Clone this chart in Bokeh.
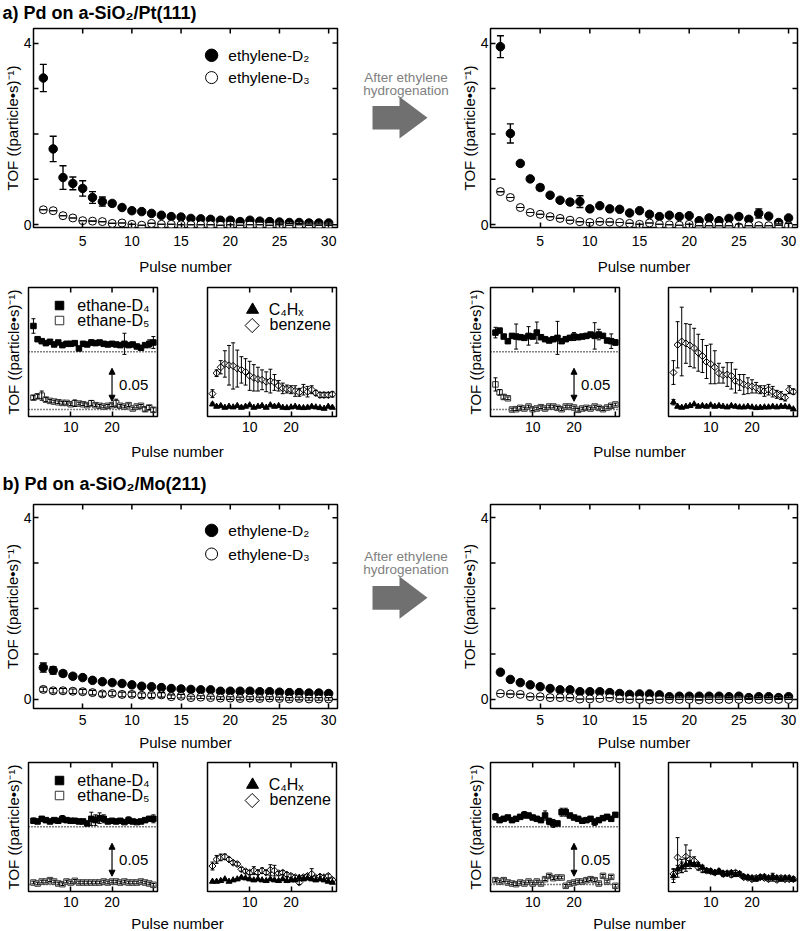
import numpy as np
from bokeh.plotting import figure
from bokeh.layouts import column, row
from bokeh.models import (Range1d, LinearAxis, FixedTicker, Whisker, TeeHead, Label,
                          Span, Arrow, NormalHead, ColumnDataSource)
from bokeh.embed import file_html
from bokeh.resources import INLINE

FONT = "Liberation Sans"
pulse = list(range(1, 31))

# ================= DATA: main panels, TOF ((particle*s)^-1) =================
# a) Pd on a-SiO2/Pt(111), before
a_pre_d2 = [3.23, 1.67, 1.04, 0.91, 0.80, 0.60, 0.51, 0.47, 0.38, 0.31,
            0.29, 0.25, 0.21, 0.18, 0.17, 0.14, 0.13, 0.12, 0.10, 0.10,
            0.07, 0.10, 0.08, 0.07, 0.06, 0.05, 0.05, 0.04, 0.04, 0.04]
a_pre_d2_err = [0.30, 0.28, 0.26, 0.14, 0.17, 0.13, 0.10, 0.05, 0.04, 0.04,
                0.04, 0.03, 0.03, 0.03, 0.03, 0.03, 0.03, 0.02, 0.02, 0.02,
                0.02, 0.02, 0.02, 0.02, 0.02, 0.02, 0.02, 0.02, 0.02, 0.02]
a_pre_d3 = [0.33, 0.31, 0.20, 0.15, 0.09, 0.08, 0.07, 0.03, 0.04, 0.01,
            -0.01, 0.03, 0.01, 0.01, 0.00, 0.00, 0.00, 0.00, -0.01, 0.00,
            -0.01, 0.00, 0.00, -0.01, 0.00, -0.01, 0.00, -0.01, -0.01, -0.01]
a_pre_d3_err = [0.0, 0.0, 0.0, 0.0, 0.0, 0.0, 0.0, 0.0, 0.0, 0.0,
                0.0, 0.0, 0.0, 0.0, 0.0, 0.0, 0.0, 0.0, 0.0, 0.0,
                0.0, 0.0, 0.0, 0.0, 0.0, 0.0, 0.0, 0.0, 0.0, 0.0]
# a) after ethylene hydrogenation
a_post_d2 = [3.92, 2.01, 1.35, 1.01, 0.82, 0.65, 0.54, 0.50, 0.51, 0.35,
             0.42, 0.35, 0.34, 0.26, 0.31, 0.23, 0.18, 0.21, 0.18, 0.20,
             0.09, 0.15, 0.09, 0.14, 0.18, 0.12, 0.25, 0.19, 0.05, 0.15]
a_post_d2_err = [0.24, 0.21, 0.04, 0.04, 0.06, 0.04, 0.03, 0.03, 0.13, 0.04,
                 0.03, 0.04, 0.03, 0.03, 0.03, 0.03, 0.03, 0.03, 0.03, 0.03,
                 0.03, 0.03, 0.03, 0.03, 0.03, 0.03, 0.10, 0.03, 0.03, 0.03]
a_post_d3 = [0.73, 0.60, 0.38, 0.27, 0.23, 0.18, 0.14, 0.10, 0.07, 0.05,
             0.07, 0.06, 0.05, 0.03, 0.01, 0.04, 0.01, 0.00, -0.01, 0.01,
             -0.02, -0.02, -0.02, -0.02, -0.05, -0.02, -0.02, -0.02, -0.01, -0.02]
a_post_d3_err = [0.0, 0.0, 0.0, 0.0, 0.0, 0.0, 0.0, 0.0, 0.0, 0.0,
                 0.0, 0.0, 0.0, 0.0, 0.0, 0.0, 0.0, 0.0, 0.0, 0.0,
                 0.0, 0.0, 0.0, 0.0, 0.06, 0.0, 0.0, 0.0, 0.0, 0.05]
# b) Pd on a-SiO2/Mo(211), before
b_pre_d2 = [0.70, 0.64, 0.57, 0.51, 0.48, 0.42, 0.39, 0.37, 0.35, 0.32,
            0.29, 0.28, 0.26, 0.24, 0.23, 0.22, 0.21, 0.21, 0.18, 0.18,
            0.18, 0.18, 0.17, 0.17, 0.16, 0.15, 0.15, 0.14, 0.14, 0.13]
b_pre_d2_err = [0.10, 0.08, 0.06, 0.05, 0.03, 0.03, 0.03, 0.03, 0.03, 0.03,
                0.03, 0.03, 0.03, 0.03, 0.03, 0.03, 0.03, 0.03, 0.03, 0.03,
                0.03, 0.03, 0.03, 0.03, 0.03, 0.03, 0.03, 0.03, 0.03, 0.03]
b_pre_d3 = [0.22, 0.19, 0.19, 0.18, 0.17, 0.15, 0.12, 0.13, 0.11, 0.11,
            0.09, 0.09, 0.10, 0.06, 0.07, 0.04, 0.05, 0.04, 0.03, 0.03,
            0.02, 0.03, 0.02, 0.03, 0.02, 0.01, 0.02, 0.01, 0.01, 0.01]
b_pre_d3_err = [0.05, 0.05, 0.05, 0.05, 0.05, 0.05, 0.05, 0.05, 0.05, 0.05,
                0.05, 0.05, 0.05, 0.04, 0.04, 0.03, 0.03, 0.03, 0.03, 0.03,
                0.03, 0.03, 0.03, 0.03, 0.03, 0.03, 0.03, 0.03, 0.03, 0.03]
# b) after ethylene hydrogenation
b_post_d2 = [0.60, 0.44, 0.37, 0.32, 0.28, 0.24, 0.21, 0.21, 0.17, 0.17,
             0.17, 0.15, 0.13, 0.11, 0.12, 0.12, 0.10, 0.06, 0.07, 0.07,
             0.07, 0.07, 0.07, 0.06, 0.07, 0.04, 0.06, 0.06, 0.04, 0.06]
b_post_d2_err = [0.02, 0.02, 0.02, 0.02, 0.02, 0.02, 0.02, 0.02, 0.02, 0.02,
                 0.02, 0.02, 0.02, 0.02, 0.02, 0.02, 0.02, 0.02, 0.02, 0.02,
                 0.02, 0.02, 0.02, 0.02, 0.02, 0.02, 0.02, 0.02, 0.02, 0.02]
b_post_d3 = [0.13, 0.12, 0.11, 0.06, 0.06, 0.04, 0.04, 0.04, 0.01, 0.01,
             0.02, 0.04, 0.01, 0.00, 0.00, -0.01, 0.00, 0.00, 0.00, 0.00,
             -0.01, 0.00, 0.00, 0.00, 0.00, 0.00, 0.00, 0.00, 0.00, 0.00]
b_post_d3_err = [0.0, 0.0, 0.0, 0.0, 0.0, 0.0, 0.0, 0.0, 0.0, 0.0,
                 0.0, 0.0, 0.0, 0.0, 0.0, 0.0, 0.0, 0.0, 0.0, 0.0,
                 0.0, 0.0, 0.0, 0.0, 0.0, 0.0, 0.0, 0.0, 0.0, 0.0]

# ================= DATA: small panels (ethane-D4, ethane-D5, C4Hx, benzene) =================
a_pre_d4 = [0.039, 0.019, 0.016, 0.013, 0.015, 0.011, 0.014, 0.010, 0.012, 0.012,
            0.013, 0.005, 0.012, 0.011, 0.014, 0.013, 0.014, 0.012, 0.011, 0.012,
            0.011, 0.010, 0.012, 0.010, 0.011, 0.008, 0.006, 0.010, 0.012, 0.014]
a_pre_d4_err = [0.011, 0.002, 0.002, 0.002, 0.002, 0.002, 0.002, 0.002, 0.002, 0.002,
                0.002, 0.002, 0.002, 0.002, 0.004, 0.002, 0.002, 0.002, 0.002, 0.002,
                0.002, 0.002, 0.016, 0.002, 0.002, 0.002, 0.002, 0.002, 0.006, 0.009]
a_pre_d5 = [0.018, 0.020, 0.021, 0.015, 0.013, 0.012, 0.011, 0.010, 0.010, 0.008,
            0.0095, 0.009, 0.008, 0.0066, 0.0096, 0.0066, 0.0056, 0.0045, 0.0056, 0.0066,
            0.0096, 0.0056, 0.0045, 0.0066, 0.0015, 0.0045, 0.0056, 0.0005, 0.003, -0.0005]
a_pre_d5_err = [0.003, 0.003, 0.007, 0.003, 0.002, 0.002, 0.002, 0.002, 0.002, 0.002,
                0.005, 0.002, 0.002, 0.002, 0.004, 0.002, 0.002, 0.002, 0.002, 0.002,
                0.006, 0.002, 0.002, 0.002, 0.002, 0.002, 0.002, 0.003, 0.003, 0.003]
a_pre_benz = [0.024, 0.055, 0.064, 0.069, 0.067, 0.066, 0.062, 0.060, 0.057, 0.051,
              0.048, 0.046, 0.045, 0.042, 0.043, 0.041, 0.036, 0.032, 0.031, 0.030,
              0.028, 0.026, 0.030, 0.027, 0.030, 0.025, 0.022, 0.022, 0.022, 0.023]
a_pre_benz_err = [0.006, 0.005, 0.010, 0.020, 0.030, 0.035, 0.028, 0.020, 0.020, 0.022,
                  0.020, 0.018, 0.015, 0.015, 0.018, 0.012, 0.008, 0.008, 0.006, 0.006,
                  0.008, 0.006, 0.008, 0.008, 0.006, 0.004, 0.004, 0.004, 0.004, 0.004]
a_pre_c4 = [0.008, 0.0045, 0.0055, 0.003, 0.0045, 0.0035, 0.0056, 0.003, 0.0045, 0.0066,
            0.003, 0.0045, 0.0056, 0.003, 0.0066, 0.0045, 0.0056, 0.003, 0.0025, 0.0035,
            0.0045, 0.003, 0.0025, 0.003, 0.0045, 0.0035, 0.0025, 0.0015, 0.0045, 0.003]
a_pre_c4_err = [0.002, 0.001, 0.001, 0.001, 0.001, 0.001, 0.001, 0.001, 0.001, 0.001,
                0.001, 0.001, 0.001, 0.001, 0.001, 0.001, 0.001, 0.001, 0.001, 0.001,
                0.001, 0.001, 0.001, 0.001, 0.001, 0.001, 0.001, 0.001, 0.001, 0.001]

a_post_d4 = [0.029, 0.032, 0.023, 0.016, 0.024, 0.023, 0.022, 0.021, 0.024, 0.023,
             0.029, 0.022, 0.019, 0.017, 0.019, 0.021, 0.016, 0.019, 0.021, 0.023,
             0.022, 0.023, 0.024, 0.026, 0.024, 0.026, 0.024, 0.017, 0.016, 0.014]
a_post_d4_err = [0.008, 0.003, 0.002, 0.002, 0.003, 0.019, 0.003, 0.003, 0.014, 0.003,
                 0.016, 0.003, 0.003, 0.003, 0.003, 0.025, 0.003, 0.003, 0.003, 0.006,
                 0.003, 0.003, 0.003, 0.003, 0.020, 0.008, 0.003, 0.003, 0.011, 0.004]
a_post_d5 = [0.038, 0.026, 0.019, 0.017, 0.000, 0.0005, 0.0025, 0.0015, 0.0045, 0.0005,
             0.0015, 0.0035, 0.0015, 0.0045, 0.0045, 0.0025, 0.0005, 0.0045, 0.0045, 0.003,
             -0.0005, 0.0015, 0.0025, 0.0015, 0.0045, 0.0025, 0.0005, 0.003, 0.0056, 0.0076]
a_post_d5_err = [0.010, 0.004, 0.003, 0.002, 0.002, 0.002, 0.002, 0.002, 0.002, 0.002,
                 0.002, 0.002, 0.002, 0.002, 0.002, 0.002, 0.002, 0.002, 0.002, 0.002,
                 0.002, 0.002, 0.002, 0.002, 0.002, 0.002, 0.002, 0.002, 0.002, 0.002]
a_post_benz = [0.056, 0.098, 0.103, 0.100, 0.097, 0.093, 0.086, 0.081, 0.072, 0.069,
               0.064, 0.055, 0.052, 0.053, 0.051, 0.043, 0.041, 0.038, 0.036, 0.035,
               0.033, 0.030, 0.028, 0.030, 0.027, 0.023, 0.021, 0.018, 0.030, 0.027]
a_post_benz_err = [0.018, 0.035, 0.052, 0.030, 0.032, 0.030, 0.028, 0.025, 0.025, 0.030,
                   0.025, 0.015, 0.012, 0.018, 0.020, 0.018, 0.012, 0.015, 0.012, 0.010,
                   0.008, 0.006, 0.008, 0.008, 0.008, 0.006, 0.006, 0.005, 0.006, 0.004]
a_post_c4 = [0.011, 0.0045, 0.003, 0.0045, 0.0056, 0.008, 0.0045, 0.0056, 0.0045, 0.0066,
             0.0045, 0.0056, 0.0045, 0.0035, 0.0056, 0.0045, 0.0035, 0.0035, 0.0045, 0.0035,
             0.0025, 0.003, 0.0035, 0.0035, 0.0045, 0.0035, 0.0045, 0.0045, 0.0035, 0.0005]
a_post_c4_err = [0.004, 0.001, 0.001, 0.001, 0.001, 0.001, 0.001, 0.001, 0.001, 0.001,
                 0.001, 0.001, 0.001, 0.001, 0.001, 0.001, 0.001, 0.001, 0.001, 0.001,
                 0.001, 0.001, 0.001, 0.001, 0.001, 0.001, 0.001, 0.001, 0.001, 0.001]

b_pre_d4 = [0.009, 0.008, 0.012, 0.010, 0.008, 0.010, 0.009, 0.012, 0.010, 0.009,
            0.009, 0.008, 0.008, 0.005, 0.012, 0.010, 0.013, 0.012, 0.008, 0.009,
            0.008, 0.009, 0.007, 0.010, 0.008, 0.007, 0.008, 0.010, 0.012, 0.012]
b_pre_d4_err = [0.004, 0.002, 0.002, 0.002, 0.002, 0.002, 0.002, 0.005, 0.002, 0.002,
                0.002, 0.002, 0.002, 0.002, 0.010, 0.008, 0.008, 0.006, 0.002, 0.002,
                0.002, 0.002, 0.002, 0.005, 0.002, 0.002, 0.002, 0.002, 0.002, 0.006]
b_pre_d5 = [0.003, 0.0015, 0.0045, 0.0045, 0.0066, 0.0045, 0.0015, 0.0005, 0.0045, 0.003,
            0.0056, 0.003, 0.003, 0.003, 0.003, 0.003, 0.003, 0.0045, 0.003, 0.0045,
            0.0045, 0.003, 0.0045, 0.003, 0.003, 0.003, 0.0045, 0.003, 0.0015, -0.0005]
b_pre_d5_err = [0.002, 0.002, 0.002, 0.002, 0.002, 0.002, 0.002, 0.002, 0.002, 0.002,
                0.002, 0.002, 0.002, 0.002, 0.002, 0.002, 0.002, 0.002, 0.002, 0.002,
                0.002, 0.002, 0.002, 0.002, 0.002, 0.002, 0.002, 0.002, 0.002, 0.002]
b_pre_benz = [0.028, 0.038, 0.041, 0.042, 0.038, 0.033, 0.031, 0.023, 0.020, 0.018,
              0.021, 0.018, 0.021, 0.018, 0.022, 0.021, 0.017, 0.018, 0.015, 0.013,
              0.011, 0.003, 0.011, 0.013, 0.016, 0.010, 0.012, 0.011, 0.013, 0.007]
b_pre_benz_err = [0.006, 0.006, 0.005, 0.004, 0.003, 0.003, 0.003, 0.003, 0.003, 0.003,
                  0.006, 0.003, 0.004, 0.003, 0.008, 0.008, 0.003, 0.003, 0.003, 0.003,
                  0.003, 0.003, 0.003, 0.003, 0.008, 0.003, 0.003, 0.003, 0.003, 0.003]
b_pre_c4 = [0.0045, 0.0045, 0.0056, 0.0081, 0.0045, 0.0066, 0.0081, 0.0106, 0.0096, 0.0081,
            0.0066, 0.0081, 0.0066, 0.0056, 0.0081, 0.0066, 0.0056, 0.0081, 0.0056, 0.0066,
            0.0066, 0.0106, 0.0081, 0.0096, 0.0081, 0.0066, 0.0081, 0.0066, 0.0045, 0.003]
b_pre_c4_err = [0.001, 0.001, 0.001, 0.001, 0.001, 0.001, 0.001, 0.001, 0.001, 0.001,
                0.001, 0.001, 0.001, 0.001, 0.001, 0.001, 0.001, 0.001, 0.001, 0.001,
                0.001, 0.001, 0.001, 0.001, 0.001, 0.001, 0.001, 0.001, 0.001, 0.001]

b_post_d4 = [0.015, 0.010, 0.012, 0.014, 0.010, 0.012, 0.015, 0.018, 0.017, 0.014,
             0.012, 0.010, 0.017, 0.008, 0.005, 0.005, 0.022, 0.022, 0.017, 0.014,
             0.012, 0.009, 0.010, 0.012, 0.007, 0.010, 0.013, 0.015, 0.012, 0.018]
b_post_d4_err = [0.005, 0.002, 0.002, 0.002, 0.002, 0.002, 0.002, 0.005, 0.002, 0.002,
                 0.002, 0.002, 0.007, 0.005, 0.006, 0.002, 0.006, 0.006, 0.002, 0.002,
                 0.002, 0.002, 0.002, 0.002, 0.005, 0.002, 0.002, 0.002, 0.002, 0.002]
b_post_d5 = [0.0066, 0.0045, 0.0066, 0.003, 0.0015, 0.0005, 0.003, 0.0015, 0.0045, 0.0015,
             0.0045, 0.0015, 0.0081, 0.0131, 0.0096, 0.0106, 0.0106, -0.002, 0.0015, 0.003,
             0.0045, 0.0045, 0.0066, 0.0081, 0.0066, 0.0015, 0.0131, 0.0045, 0.0116, -0.002]
b_post_d5_err = [0.002, 0.002, 0.002, 0.002, 0.002, 0.002, 0.002, 0.002, 0.002, 0.002,
                 0.002, 0.002, 0.002, 0.002, 0.002, 0.002, 0.002, 0.002, 0.002, 0.002,
                 0.002, 0.002, 0.002, 0.002, 0.002, 0.002, 0.002, 0.002, 0.002, 0.002]
b_post_benz = [0.016, 0.041, 0.028, 0.042, 0.038, 0.036, 0.026, 0.023, 0.021, 0.020,
               0.018, 0.020, 0.016, 0.017, 0.015, 0.018, 0.016, 0.011, 0.010, 0.008,
               0.010, 0.011, 0.010, 0.008, 0.011, 0.007, 0.010, 0.008, 0.008, 0.008]
b_post_benz_err = [0.008, 0.030, 0.010, 0.018, 0.014, 0.006, 0.004, 0.005, 0.003, 0.003,
                   0.003, 0.003, 0.004, 0.003, 0.004, 0.003, 0.003, 0.003, 0.003, 0.003,
                   0.003, 0.003, 0.003, 0.003, 0.006, 0.003, 0.003, 0.003, 0.003, 0.003]
b_post_c4 = [0.013, 0.023, 0.026, 0.030, 0.032, 0.030, 0.030, 0.026, 0.021, 0.020,
             0.018, 0.020, 0.017, 0.016, 0.018, 0.015, 0.016, 0.012, 0.011, 0.010,
             0.008, 0.011, 0.012, 0.010, 0.011, 0.010, 0.008, 0.010, 0.010, 0.008]
b_post_c4_err = [0.010, 0.006, 0.008, 0.010, 0.004, 0.003, 0.003, 0.003, 0.003, 0.003,
                 0.003, 0.003, 0.003, 0.003, 0.003, 0.003, 0.003, 0.003, 0.003, 0.003,
                 0.003, 0.003, 0.003, 0.003, 0.003, 0.003, 0.003, 0.003, 0.003, 0.003]

# ================= axes / layout settings =================
MAIN_X = (0.0, 30.9)
A_MAIN_Y = (-0.06, 4.32)
B_MAIN_Y = (-0.2, 4.29)
MAIN_XTICKS = [5, 10, 15, 20, 25, 30]
MAIN_YTICKS = [0, 1, 2, 3, 4]
MAIN_YLABELED = [0, 4]
SMALL_X = (-0.2, 31.0)
SMALL_Y = (-0.0106, 0.1848)
SMALL_XTICKS = [10, 20, 30]
SMALL_XLABELED = [10, 20]
D4_OFFSET = 0.0875          # vertical offset of the ethane-D4 trace
SCALE_BAR = 0.05            # length of the vertical scale bar
SCALE_X, SCALE_LO, SCALE_TX = 20.0, 0.0125, 21.7

YLABEL = "TOF ((particle\u2022s)\u207b\u00b9)"
XLABEL = "Pulse number"
TICK = 5


def make_panel(fig_rect, frame_rect, xr, yr):
    fx, fy, fw, fh = fig_rect
    l, t, r, b = frame_rect
    p = figure(width=fw, height=fh, x_range=Range1d(*xr), y_range=Range1d(*yr),
               x_axis_location=None, y_axis_location=None, toolbar_location=None,
               output_backend="svg", title=None,
               min_border_left=l - fx, min_border_right=fx + fw - r,
               min_border_top=t - fy, min_border_bottom=fy + fh - b)
    p.grid.visible = False
    p.outline_line_color = "black"
    p.outline_line_width = 1.5
    p.background_fill_color = "white"
    p.border_fill_color = "white"
    return p


def strip_fig(fig_rect):
    """Blank figure whose data coordinates equal page pixels."""
    fx, fy, fw, fh = fig_rect
    p = figure(width=fw, height=fh, x_range=Range1d(fx, fx + fw), y_range=Range1d(fy + fh, fy),
               x_axis_location=None, y_axis_location=None, toolbar_location=None,
               output_backend="svg", title=None, min_border=0)
    p.grid.visible = False
    p.outline_line_color = None
    p.border_fill_color = "white"
    p.background_fill_color = "white"
    return p


def add_axis(p, side, ticks, standoff=4, label=None, label_standoff=0):
    ax = LinearAxis(ticker=FixedTicker(ticks=ticks, minor_ticks=[]))
    ax.axis_line_color = None
    ax.major_tick_in = TICK
    ax.major_tick_out = 0
    ax.minor_tick_in = 0
    ax.minor_tick_out = 0
    ax.major_tick_line_color = "black"
    ax.major_tick_line_width = 1.5
    ax.major_label_text_font = FONT
    ax.major_label_text_font_size = "14px"
    ax.major_label_text_color = "black"
    ax.major_label_standoff = standoff
    if label is not None:
        ax.axis_label = label
        ax.axis_label_text_font = FONT
        ax.axis_label_text_font_size = "15px"
        ax.axis_label_text_font_style = "normal"
        ax.axis_label_text_color = "black"
        ax.axis_label_standoff = label_standoff
    p.add_layout(ax, side)


def edge_ticks(p, side, ticks, xr, yr):
    """Inward tick marks on an unlabeled frame edge."""
    n = len(ticks)
    if side == "above":
        xs, ys, ang = ticks, [yr[1]] * n, -np.pi / 2
    elif side == "below":
        xs, ys, ang = ticks, [yr[0]] * n, np.pi / 2
    elif side == "left":
        xs, ys, ang = [xr[0]] * n, ticks, 0.0
    else:
        xs, ys, ang = [xr[1]] * n, ticks, np.pi
    p.ray(x=xs, y=ys, length=TICK, length_units="screen", angle=ang,
          line_color="black", line_width=1.5)


def errbars(p, x, y, e, cap, lw):
    y = np.asarray(y, float)
    e = np.asarray(e, float)
    src = ColumnDataSource(dict(base=list(x), lower=list(y - e), upper=list(y + e)))
    p.add_layout(Whisker(source=src, base="base", lower="lower", upper="upper",
                         dimension="height", level="annotation",
                         line_color="black", line_width=lw,
                         upper_head=TeeHead(size=cap, line_color="black", line_width=lw),
                         lower_head=TeeHead(size=cap, line_color="black", line_width=lw)))


def dlabel(p, x, y, text, size="15px", align="left", color="black", style="normal"):
    p.add_layout(Label(x=x, y=y, text=text, text_align=align, text_baseline="middle",
                       text_font=FONT, text_font_size=size, text_color=color,
                       text_font_style=style))


def main_panel(fig_rect, frame_rect, yr, d2, d2e, d3, d3e, tick_standoff, label_standoff):
    p = make_panel(fig_rect, frame_rect, MAIN_X, yr)
    add_axis(p, "below", MAIN_XTICKS, tick_standoff, XLABEL, label_standoff)
    add_axis(p, "left", MAIN_YLABELED, 2, YLABEL, 0)
    edge_ticks(p, "above", MAIN_XTICKS, MAIN_X, yr)
    edge_ticks(p, "right", MAIN_YTICKS, MAIN_X, yr)
    edge_ticks(p, "left", [1, 2, 3], MAIN_X, yr)
    p.scatter(pulse, d2, marker="circle", size=8.5, fill_color="black", line_color="black")
    p.scatter(pulse, d3, marker="circle", size=8, fill_color="white", line_color="black",
              line_width=1)
    errbars(p, pulse, d2, d2e, 7, 1.4)
    errbars(p, pulse, d3, d3e, 7, 1.1)
    return p


def main_legend(p, ys):
    p.scatter([18.1], [ys[0]], marker="circle", size=12.5, fill_color="black", line_color="black")
    p.scatter([18.1], [ys[1]], marker="circle", size=12, fill_color="white", line_color="black",
              line_width=1)
    dlabel(p, 19.8, ys[0], "ethylene-D\u2082", "15.5px")
    dlabel(p, 19.8, ys[1], "ethylene-D\u2083", "15.5px")


def small_frame(fig_rect, frame_rect, standoff, ylabel):
    p = make_panel(fig_rect, frame_rect, SMALL_X, SMALL_Y)
    add_axis(p, "below", SMALL_XLABELED, standoff)
    edge_ticks(p, "below", [30], SMALL_X, SMALL_Y)
    edge_ticks(p, "above", SMALL_XTICKS, SMALL_X, SMALL_Y)
    if ylabel:
        add_axis(p, "left", [], 0, YLABEL, 7)
    return p


def ethane_panel(fig_rect, frame_rect, d4, d4e, d5, d5e, standoff, legend):
    p = small_frame(fig_rect, frame_rect, standoff, legend)
    for loc in (0.0, D4_OFFSET):
        p.add_layout(Span(location=loc, dimension="width", line_color="black",
                          line_dash="1 2", line_width=1.3, level="underlay"))
    d4y = np.asarray(d4, float) + D4_OFFSET
    errbars(p, pulse, d4y, d4e, 4, 1.0)
    errbars(p, pulse, d5, d5e, 4, 1.0)
    p.scatter(pulse, d4y, marker="square", size=5.5, fill_color="black", line_color="black")
    p.scatter(pulse, d5, marker="square", size=5.5, fill_color="white", line_color="#333333",
              line_width=1)
    p.add_layout(Arrow(x_start=SCALE_X, y_start=SCALE_LO, x_end=SCALE_X,
                       y_end=SCALE_LO + SCALE_BAR, line_width=1.2, line_color="black",
                       start=NormalHead(size=6, fill_color="black", line_color="black"),
                       end=NormalHead(size=6, fill_color="black", line_color="black")))
    dlabel(p, SCALE_TX, SCALE_LO + SCALE_BAR / 2, "0.05", "15px")
    if legend:
        p.scatter([7.3], [0.1575], marker="square", size=8.5, fill_color="black",
                  line_color="black")
        p.scatter([7.3], [0.1348], marker="square", size=8.5, fill_color="white",
                  line_color="#333333", line_width=1)
        dlabel(p, 11.6, 0.1575, "ethane-D\u2084", "16px")
        dlabel(p, 11.6, 0.1348, "ethane-D\u2085", "16px")
    return p


def c4_panel(fig_rect, frame_rect, c4, c4e, bz, bze, standoff, legend):
    p = small_frame(fig_rect, frame_rect, standoff, False)
    errbars(p, pulse, bz, bze, 4, 1.0)
    errbars(p, pulse, c4, c4e, 4, 1.0)
    p.scatter(pulse, bz, marker="square", angle=np.pi / 4, size=5, fill_color="white",
              line_color="black", line_width=1)
    p.scatter(pulse, c4, marker="triangle", size=6, fill_color="black", line_color="black")
    if legend:
        p.scatter([10.7], [0.151], marker="triangle", size=12, fill_color="black",
                  line_color="black")
        p.scatter([10.6], [0.1272], marker="square", angle=np.pi / 4, size=10,
                  fill_color="white", line_color="black", line_width=1)
        dlabel(p, 14.6, 0.152, "C\u2084H\u2093", "16px")
        dlabel(p, 14.8, 0.1287, "benzene", "16px")
    return p


ARROW_X = [372, 399, 399, 427, 399, 399, 372]
ARROW_Y = [122, 122, 110, 137, 163.5, 152, 152]


def arrow_fig(fig_rect, dy):
    p = strip_fig(fig_rect)
    p.patch(ARROW_X, [v + dy for v in ARROW_Y], fill_color="#707070", line_color=None)
    dlabel(p, 405.5, 85 + dy, "After ethylene", "13.5px", "center", "#808080")
    dlabel(p, 405.5, 101.5 + dy, "hydrogenation", "13.5px", "center", "#808080")
    return p


# ================= build (page pixel rectangles) =================
# ---- section a ----
tA = strip_fig((0, 0, 800, 23))
dlabel(tA, 2, 12.5, "a) Pd on a-SiO\u2082/Pt(111)", "18px", style="bold")

figAL = main_panel((0, 23, 345, 254), (28, 28, 337, 227), A_MAIN_Y, a_pre_d2, a_pre_d2_err,
                   a_pre_d3, a_pre_d3_err, 8, 9)
main_legend(figAL, (3.73, 3.24))
figArA = arrow_fig((345, 23, 110, 254), 0)
figAR = main_panel((455, 23, 345, 254), (490, 28, 797, 227), A_MAIN_Y, a_post_d2, a_post_d2_err,
                   a_post_d3, a_post_d3_err, 8, 9)

figAs1 = ethane_panel((0, 277, 182, 164), (28, 287, 157, 416), a_pre_d4, a_pre_d4_err,
                      a_pre_d5, a_pre_d5_err, 5, True)
figAs2 = c4_panel((182, 277, 163, 164), (207, 287, 336, 416), a_pre_c4, a_pre_c4_err,
                  a_pre_benz, a_pre_benz_err, 5, True)
figAs3 = ethane_panel((345, 277, 299, 164), (490, 287, 619, 416), a_post_d4, a_post_d4_err,
                      a_post_d5, a_post_d5_err, 5, False)
add_axis(figAs3, "left", [], 0, YLABEL, 7)
figAs4 = c4_panel((644, 277, 156, 164), (668, 287, 797, 416), a_post_c4, a_post_c4_err,
                  a_post_benz, a_post_benz_err, 5, False)

xA = strip_fig((0, 441, 800, 26))
dlabel(xA, 177, 450.5, XLABEL, "15px", "center")
dlabel(xA, 639, 450.5, XLABEL, "15px", "center")

# ---- section b ----
tB = strip_fig((0, 467, 800, 28))
dlabel(tB, 2, 483.5, "b) Pd on a-SiO\u2082/Mo(211)", "18px", style="bold")

figBL = main_panel((0, 495, 345, 258), (28, 504, 337, 708), B_MAIN_Y, b_pre_d2, b_pre_d2_err,
                   b_pre_d3, b_pre_d3_err, 6, 6)
main_legend(figBL, (3.72, 3.20))
figArB = arrow_fig((345, 495, 110, 258), 476)
figBR = main_panel((455, 495, 345, 258), (490, 504, 797, 708), B_MAIN_Y, b_post_d2, b_post_d2_err,
                   b_post_d3, b_post_d3_err, 6, 6)

figBs1 = ethane_panel((0, 753, 182, 160), (28, 762, 157, 891), b_pre_d4, b_pre_d4_err,
                      b_pre_d5, b_pre_d5_err, 5, True)
figBs2 = c4_panel((182, 753, 163, 160), (207, 762, 336, 891), b_pre_c4, b_pre_c4_err,
                  b_pre_benz, b_pre_benz_err, 5, True)
figBs3 = ethane_panel((345, 753, 299, 160), (490, 762, 619, 891), b_post_d4, b_post_d4_err,
                      b_post_d5, b_post_d5_err, 5, False)
add_axis(figBs3, "left", [], 0, YLABEL, 7)
figBs4 = c4_panel((644, 753, 156, 160), (668, 762, 797, 891), b_post_c4, b_post_c4_err,
                  b_post_benz, b_post_benz_err, 5, False)

xB = strip_fig((0, 913, 800, 17))
dlabel(xB, 177, 922.5, XLABEL, "15px", "center")
dlabel(xB, 639, 922.5, XLABEL, "15px", "center")

layout = column(
    tA,
    row(figAL, figArA, figAR),
    row(figAs1, figAs2, figAs3, figAs4),
    xA,
    tB,
    row(figBL, figArB, figBR),
    row(figBs1, figBs2, figBs3, figBs4),
    xB,
)

open("out.html", "w").write(file_html(layout, INLINE))
